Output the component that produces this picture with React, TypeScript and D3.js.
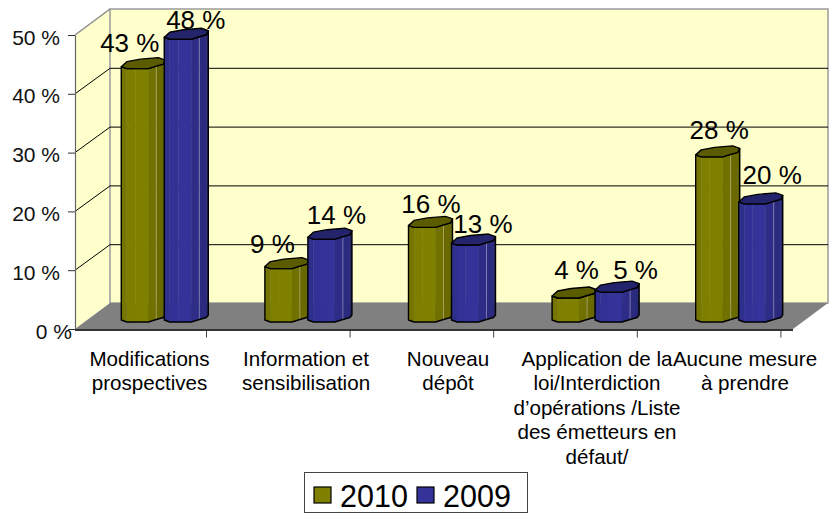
import React, { useEffect, useRef } from 'react';
import * as d3 from 'd3';

const width = 836;
const height = 514;

const categories = [
  ['Modifications', 'prospectives'],
  ['Information et', 'sensibilisation'],
  ['Nouveau', 'dépôt'],
  ['Application de la', 'loi/Interdiction', 'd’opérations /Liste', 'des émetteurs en', 'défaut/'],
  ['Aucune mesure', 'à prendre'],
];
const seriesNames = ['2010', '2009'];
const values2010 = [43, 9, 16, 4, 28];
const values2009 = [48, 14, 13, 5, 20];
const yTicks = [0, 10, 20, 30, 40, 50];

// layout only: where the labels sit relative to their bar top
const offsets2010 = [[-13, -11], [-14, -10], [1, -9], [3, -13], [2, -12]];
const offsets2009 = [[10, -5], [7, -10], [10, -7], [19, -8], [12, -14]];
const labelCenters = [149.5, 306, 448, 597, 745];

const colors = ['#808000', '#333399'];
const font = '"Liberation Sans", Arial, sans-serif';

// 3d box: back wall is the front plane moved by depthX, -depthY
const depthX = 35;
const depthY = 26;
const frontLeft = 75;
const frontRight = 793;

// outline of the cylinder's front, relative to left edge / centre line
const frontEdge: [number, number][] = [[0, 3.5], [5.5, 5.5], [14, 5.5], [27, 5.5], [35, 3], [42, 1], [44, -3]];
const backEdge: [number, number][] = [[37, -5.5], [19, -4], [5.5, -1.5]];
const facetShade = [0.25, 0.05, 0, 0.35, 0.55, 0.9];

const App = () => {
  const svgRef = useRef<SVGSVGElement>(null);

  useEffect(() => {
    const svg = d3.select(svgRef.current);
    svg.selectAll('*').remove();

    const yFront = d3.scaleLinear().domain([0, 50]).range([329, 35]);
    const yBar = d3.scaleLinear().domain([0, 50]).range([316, 22]);

    const x0 = d3.scaleBand<number>()
      .domain(d3.range(categories.length))
      .range([frontLeft + depthX / 2, frontRight + depthX / 2]);
    const x1 = d3.scaleBand<number>()
      .domain(d3.range(seriesNames.length))
      .range([-43, 43]);

    const backY = (v: number) => yFront(v) - depthY;

    // walls and floor
    const line = d3.line();
    svg.append('path')
      .attr('d', line([[frontLeft, 35], [frontLeft + depthX, 9], [frontLeft + depthX, 303], [frontLeft, 329]]) + 'Z')
      .attr('fill', '#ffffcc');
    svg.append('rect')
      .attr('x', frontLeft + depthX)
      .attr('y', 9)
      .attr('width', frontRight - frontLeft)
      .attr('height', 294)
      .attr('fill', '#ffffcc')
      .attr('stroke', '#9a9a9a')
      .attr('stroke-width', 1.5);
    svg.append('path')
      .attr('d', line([[frontLeft, 35], [frontLeft + depthX, 9]]))
      .attr('stroke', '#8c8c8c')
      .attr('stroke-width', 1.5)
      .attr('fill', 'none');
    svg.append('path')
      .attr('d', line([[frontLeft, 329], [frontLeft + depthX, 303], [frontRight + depthX, 303], [frontRight, 329]]) + 'Z')
      .attr('fill', '#808080');

    // gridlines
    const grid = svg.append('g').attr('fill', 'none').attr('stroke', '#000').attr('stroke-width', 1);
    yTicks.filter(t => t > 0 && t < 50).forEach(t => {
      grid.append('path').attr('d', line([
        [frontLeft, yFront(t)],
        [frontLeft + depthX, backY(t) + 0.5],
        [frontRight + depthX, backY(t) + 0.5],
      ]));
    });

    // y axis
    const yAxis = svg.append('g')
      .attr('transform', `translate(${frontLeft},0)`)
      .call(d3.axisLeft(yFront).tickValues(yTicks).tickSize(7).tickSizeOuter(0).tickFormat(d => `${d} %`));
    yAxis.select('.domain').attr('stroke', '#666').attr('stroke-width', 1.2);
    yAxis.selectAll('.tick line').attr('stroke', '#333');
    yAxis.selectAll('.tick text')
      .attr('x', (d: any) => (d === 0 ? -3 : -15))
      .attr('dy', 9)
      .style('font-family', font)
      .style('font-size', '21px')
      .attr('fill', '#111');

    // x axis ticks
    const xTickScale = d3.scaleLinear().domain([0, categories.length]).range([62.4, 780.4]);
    const xAxis = svg.append('g')
      .attr('transform', 'translate(0,329.5)')
      .call(d3.axisBottom(xTickScale).tickValues(d3.range(1, categories.length + 1)).tickSize(8).tickSizeOuter(0).tickFormat(() => ''));
    xAxis.select('.domain').remove();
    xAxis.selectAll('.tick line').attr('stroke', '#444');
    svg.append('path')
      .attr('d', line([[frontLeft, 330], [frontRight, 330]]))
      .attr('stroke', '#333')
      .attr('stroke-width', 2);

    // bars
    const drawBar = (cat: number, s: number, v: number, color: string) => {
      const left = x0(cat)! + x0.bandwidth() / 2 + x1(s)!;
      const base = yBar(0);
      const top = yBar(v);
      const g = svg.append('g');

      const at = (yc: number) => (p: [number, number]) => [left + p[0], yc + p[1]] as [number, number];
      const topFront = frontEdge.map(at(top));
      const baseFront = frontEdge.map(p => at(base)([p[0], p === frontEdge[frontEdge.length - 1] ? -1 : p[1] + 0.5]));

      d3.pairs(d3.range(frontEdge.length)).forEach(([a, b], i) => {
        g.append('path')
          .attr('d', line([topFront[a], topFront[b], baseFront[b], baseFront[a]]) + 'Z')
          .attr('fill', d3.rgb(color).darker(facetShade[i]).formatHex())
          .attr('stroke', d3.rgb(color).darker(facetShade[i]).formatHex())
          .attr('stroke-width', 0.5);
      });
      // thin highlight down the side
      g.append('path')
        .attr('d', line([topFront[4], baseFront[4]]))
        .attr('stroke', '#fff')
        .attr('stroke-opacity', 0.35)
        .attr('fill', 'none');
      // outline
      g.append('path')
        .attr('d', line([...topFront, ...baseFront.slice().reverse()]) + 'Z')
        .attr('fill', 'none')
        .attr('stroke', '#000')
        .attr('stroke-width', 1.4)
        .attr('stroke-linejoin', 'round');
      // cap
      g.append('path')
        .attr('d', line([...topFront, ...backEdge.map(at(top))]) + 'Z')
        .attr('fill', d3.rgb(color).darker(0.95).formatHex())
        .attr('stroke', '#000')
        .attr('stroke-width', 1.4)
        .attr('stroke-linejoin', 'round');
    };

    d3.range(categories.length).forEach(i => {
      drawBar(i, 0, values2010[i], colors[0]);
      drawBar(i, 1, values2009[i], colors[1]);
    });

    // data labels
    const addLabels = (values: number[], offs: number[][], s: number) => {
      svg.append('g')
        .selectAll('text')
        .data(values)
        .enter()
        .append('text')
        .attr('x', (_, i) => x0(i)! + x0.bandwidth() / 2 + x1(s)! + x1.bandwidth() / 2 + offs[i][0])
        .attr('y', (d, i) => yBar(d) + offs[i][1])
        .attr('text-anchor', 'middle')
        .style('font-family', font)
        .style('font-size', '26px')
        .attr('fill', '#000')
        .text(d => `${d} %`);
    };
    addLabels(values2010, offsets2010, 0);
    addLabels(values2009, offsets2009, 1);

    // category labels
    categories.forEach((lines, i) => {
      const t = svg.append('text')
        .attr('text-anchor', 'middle')
        .style('font-family', font)
        .style('font-size', '20.6px')
        .attr('fill', '#000');
      lines.forEach((l, j) => {
        t.append('tspan').attr('x', labelCenters[i]).attr('y', 365.5 + j * 24.5).text(l);
      });
    });

    // legend
    svg.append('rect')
      .attr('x', 304.5)
      .attr('y', 472.5)
      .attr('width', 223)
      .attr('height', 40)
      .attr('fill', '#fff')
      .attr('stroke', '#444')
      .attr('stroke-width', 1);
    const legendX = d3.scalePoint<string>().domain(seriesNames).range([314, 417]);
    seriesNames.forEach((name, i) => {
      svg.append('rect')
        .attr('x', legendX(name)!)
        .attr('y', 487)
        .attr('width', 17)
        .attr('height', 16)
        .attr('fill', colors[i])
        .attr('stroke', '#000')
        .attr('stroke-width', 1.2);
      svg.append('text')
        .attr('x', legendX(name)! + 26)
        .attr('y', 507)
        .style('font-family', font)
        .style('font-size', '30.5px')
        .attr('fill', '#000')
        .text(name);
    });
  }, []);

  return (
    <svg
      ref={svgRef}
      width={width}
      height={height}
      style={{ position: 'absolute', left: 0, top: 0, background: '#fff' }}
    />
  );
};

export default App;
